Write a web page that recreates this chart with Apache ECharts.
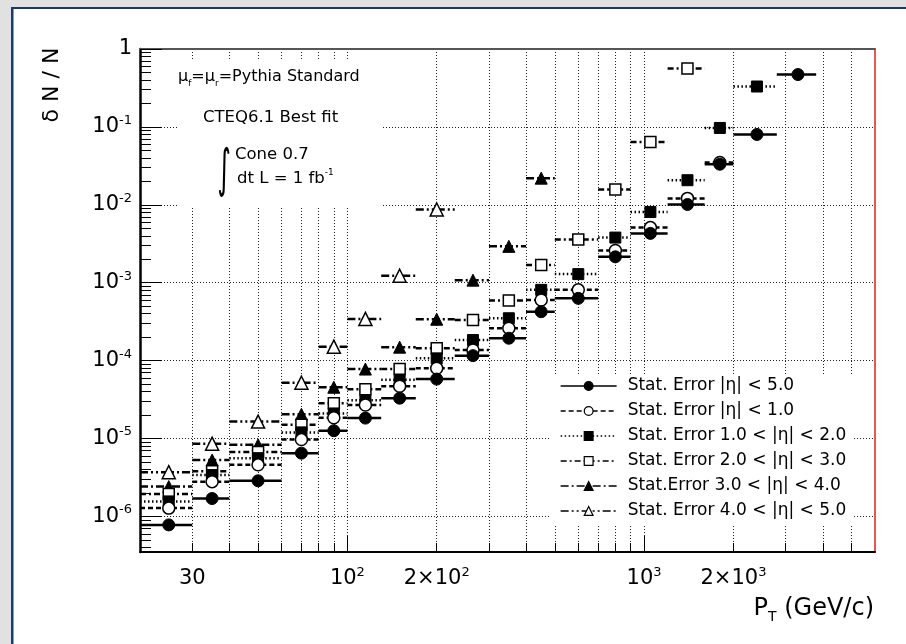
<!DOCTYPE html>
<html>
<head>
<meta charset="utf-8">
<script src="https://cdn.jsdelivr.net/npm/echarts@6/dist/echarts.min.js"></script>
<style>
html, body { margin: 0; padding: 0; background: #fff; }
#chart { width: 906px; height: 644px; }
</style>
</head>
<body>
<div id="chart"></div>
<script>
// pT bins (GeV/c): low edge, high edge, point position
const binLo  = [20, 30, 40, 60, 80, 100, 130, 170, 230, 300, 400, 500, 700, 900, 1200, 1600, 2000, 2800];
const binHi  = [30, 40, 60, 80, 100, 130, 170, 230, 300, 400, 500, 700, 900, 1200, 1600, 2000, 2800, 3800];
const binMid = [25, 35, 50, 70, 90, 115, 150, 200, 265, 350, 450, 600, 800, 1050, 1400, 1800, 2400, 3300];

// dN/N per bin, null = no point
const errEta50 = [7.8e-7, 1.7e-6, 2.87e-6, 6.5e-6, 1.26e-5, 1.83e-5, 3.3e-5, 5.8e-5, 1.16e-4, 1.94e-4, 4.25e-4, 6.3e-4, 2.15e-3, 4.3e-3, 1.01e-2, 3.32e-2, 8.0e-2, 0.47];
const errEta10 = [1.28e-6, 2.8e-6, 4.6e-6, 9.7e-6, 1.85e-5, 2.7e-5, 4.7e-5, 8.0e-5, 1.37e-4, 2.6e-4, 6.0e-4, 8.1e-4, 2.6e-3, 5.1e-3, 1.21e-2, 3.5e-2, null, null];
const errEta1020 = [1.56e-6, 3.4e-6, 5.6e-6, 1.2e-5, 2.1e-5, 3.1e-5, 5.7e-5, 1.07e-4, 1.84e-4, 3.5e-4, 8.1e-4, 1.29e-3, 3.8e-3, 8.1e-3, 2.07e-2, 9.7e-2, 0.33, null];
const errEta2030 = [1.94e-6, 3.8e-6, 6.7e-6, 1.5e-5, 2.85e-5, 4.3e-5, 7.8e-5, 1.44e-4, 3.33e-4, 5.9e-4, 1.69e-3, 3.6e-3, 1.57e-2, 6.4e-2, 0.56, null, null, null];
const errEta3040 = [2.42e-6, 5.3e-6, 8.3e-6, 2.05e-5, 4.56e-5, 7.8e-5, 1.49e-4, 3.4e-4, 1.08e-3, 2.93e-3, 2.2e-2, null, null, null, null, null, null, null];
const errEta4050 = [3.7e-6, 8.6e-6, 1.65e-5, 5.2e-5, 1.51e-4, 3.43e-4, 1.23e-3, 8.7e-3, null, null, null, null, null, null, null, null, null, null];

const seriesNames = [
    'Stat. Error |η| < 5.0',
    'Stat. Error |η| < 1.0',
    'Stat. Error 1.0 < |η| < 2.0',
    'Stat. Error 2.0 < |η| < 3.0',
    'Stat.Error 3.0 < |η| < 4.0',
    'Stat. Error 4.0 < |η| < 5.0'
];

// axis ticks and labels
const xTickVals = [30, 40, 50, 60, 70, 80, 90, 100, 200, 300, 400, 500, 600, 700, 800, 900, 1000, 2000, 3000, 4000, 5000];
const xMajorTickVals = [100, 1000];
const xLabelVals = [30, 100, 200, 1000, 2000];
const xLabelTexts = ['30', '10{s|2}', '2×10{s|2}', '10{s|3}', '2×10{s|3}'];
const yLabelVals = [1e-6, 1e-5, 1e-4, 1e-3, 1e-2, 1e-1, 1];
const yLabelTexts = ['10{s|-6}', '10{s|-5}', '10{s|-4}', '10{s|-3}', '10{s|-2}', '10{s|-1}', '1'];
const yMinorTickVals = [];
[1e-7, 1e-6, 1e-5, 1e-4, 1e-3, 1e-2, 1e-1].forEach(function (d) {
    for (let k = 2; k <= 9; k++) {
        if (k * d >= 3.5e-7) yMinorTickVals.push(k * d);
    }
});

const FONT = 'DejaVu Sans';

function pickLabel(vals, texts, v) {
    for (let i = 0; i < vals.length; i++) {
        if (Math.abs(Math.log10(v / vals[i])) < 1e-4) return texts[i];
    }
    return '';
}

// horizontal bin bar + marker in the middle, gaps between bins
function binData(vals) {
    let out = [];
    vals.forEach(function (v, i) {
        if (v == null) return;
        out.push({ value: [binLo[i], v], symbol: 'none' });
        out.push({ value: [binMid[i], v] });
        out.push({ value: [binHi[i], v], symbol: 'none' });
        out.push({ value: ['-', '-'] });
    });
    return out;
}

function makeSeries(name, vals, symbol, size, filled, dash, width, z) {
    return {
        name: name,
        type: 'line',
        data: binData(vals),
        symbol: symbol,
        symbolSize: size,
        showSymbol: true,
        connectNulls: false,
        silent: true,
        z: z,
        lineStyle: { color: '#000', width: width, type: dash },
        itemStyle: filled
            ? { color: '#000', borderColor: '#000', borderWidth: 1 }
            : { color: '#fff', borderColor: '#000', borderWidth: 1.5 }
    };
}

let xMin = 20, xMax = 6000, yMin = 3.5e-7, yMax = 1;

let option = {
    animation: false,
    backgroundColor: '#fff',
    textStyle: { fontFamily: FONT },
    grid: { left: 140, top: 49, width: 735, height: 503, containLabel: false, outerBoundsMode: 'none' },
    legend: {
        orient: 'vertical',
        left: 550,
        top: 374,
        data: seriesNames,
        backgroundColor: '#fff',
        padding: [3, 6, 5, 10],
        itemWidth: 56,
        itemHeight: 11,
        itemGap: 7,
        selectedMode: false,
        lineStyle: { width: 1.3 },
        itemStyle: { borderWidth: 1.2 },
        textStyle: { fontFamily: FONT, fontSize: 17, color: '#000', lineHeight: 18, padding: [0, 0, 0, 6] }
    },
    xAxis: [
        {
            type: 'log', logBase: 10, min: xMin, max: xMax, position: 'bottom',
            axisLine: { show: true, onZero: false, lineStyle: { color: '#000', width: 2 } },
            axisTick: { show: true, inside: true, length: 9, customValues: xTickVals, lineStyle: { color: '#000', width: 1 } },
            minorTick: { show: false },
            axisLabel: {
                show: true, customValues: xLabelVals, margin: 14,
                fontFamily: FONT, fontSize: 21, color: '#000', lineHeight: 26,
                formatter: function (v) { return pickLabel(xLabelVals, xLabelTexts, v); },
                rich: { s: { fontFamily: FONT, fontSize: 13, lineHeight: 13, verticalAlign: 'top', color: '#000' } }
            },
            splitLine: { show: true, lineStyle: { color: '#222', width: 1, type: [1, 2] } }
        },
        {
            type: 'log', logBase: 10, min: xMin, max: xMax, position: 'bottom',
            axisLine: { show: false, onZero: false },
            axisTick: { show: true, inside: true, length: 16, customValues: xMajorTickVals, lineStyle: { color: '#000', width: 1 } },
            axisLabel: { show: false },
            splitLine: { show: false }
        },
        {
            type: 'log', logBase: 10, min: xMin, max: xMax, position: 'top',
            axisLine: { show: true, onZero: false, lineStyle: { color: '#555', width: 2 } },
            axisTick: { show: false },
            axisLabel: { show: false },
            splitLine: { show: false }
        }
    ],
    yAxis: [
        {
            type: 'log', logBase: 10, min: yMin, max: yMax, position: 'left',
            axisLine: { show: true, onZero: false, lineStyle: { color: '#000', width: 2.5 } },
            axisTick: { show: true, inside: true, length: 22, customValues: yLabelVals, lineStyle: { color: '#000', width: 1 } },
            minorTick: { show: false },
            axisLabel: {
                show: true, customValues: yLabelVals, margin: 8,
                fontFamily: FONT, fontSize: 21, color: '#000', lineHeight: 26,
                formatter: function (v) { return pickLabel(yLabelVals, yLabelTexts, v); },
                rich: { s: { fontFamily: FONT, fontSize: 13, lineHeight: 13, verticalAlign: 'top', color: '#000' } }
            },
            splitLine: { show: true, lineStyle: { color: '#222', width: 1, type: [1, 2] } }
        },
        {
            type: 'log', logBase: 10, min: yMin, max: yMax, position: 'left',
            axisLine: { show: false, onZero: false },
            axisTick: { show: true, inside: true, length: 11, customValues: yMinorTickVals, lineStyle: { color: '#000', width: 1 } },
            axisLabel: { show: false },
            splitLine: { show: false }
        },
        {
            type: 'log', logBase: 10, min: yMin, max: yMax, position: 'right',
            axisLine: { show: true, onZero: false, lineStyle: { color: '#e0201a', width: 1.5 } },
            axisTick: { show: false },
            axisLabel: { show: false },
            splitLine: { show: false }
        }
    ],
    series: [
        makeSeries(seriesNames[0], errEta50, 'circle', 12, true, 'solid', 2.5, 8),
        makeSeries(seriesNames[1], errEta10, 'circle', 12, false, [5, 3], 2.5, 7),
        makeSeries(seriesNames[2], errEta1020, 'rect', 11, true, [1.5, 2.5], 2.5, 6),
        makeSeries(seriesNames[3], errEta2030, 'rect', 11, false, [6, 3, 2, 3], 2.5, 5),
        makeSeries(seriesNames[4], errEta3040, 'triangle', 12, true, [8, 3, 2, 3], 2.5, 4),
        makeSeries(seriesNames[5], errEta4050, 'triangle', 13, false, [8, 3, 2, 3, 2, 3], 2.5, 3)
    ],
    graphic: [
        // outer panel frame
        { type: 'rect', shape: { x: 0, y: 0, width: 906, height: 7 }, style: { fill: '#e1e1e1' }, z: 1 },
        { type: 'rect', shape: { x: 0, y: 0, width: 11, height: 644 }, style: { fill: '#e1e1e1' }, z: 1 },
        { type: 'rect', shape: { x: 11, y: 7, width: 895, height: 2 }, style: { fill: '#1b3a6b' }, z: 2 },
        { type: 'rect', shape: { x: 11, y: 7, width: 2.5, height: 637 }, style: { fill: '#1b3a6b' }, z: 2 },
        // info box
        { type: 'rect', shape: { x: 178, y: 60, width: 205, height: 148 }, style: { fill: '#fff' }, z: 3 },
        {
            type: 'text', x: 178, y: 77, z: 4,
            style: {
                text: 'μ{sub|f}=μ{sub|r}=Pythia Standard', fontFamily: FONT, fontSize: 16, fill: '#000',
                textVerticalAlign: 'middle', lineHeight: 22,
                rich: { sub: { fontFamily: FONT, fontSize: 9, lineHeight: 9, verticalAlign: 'bottom', fill: '#000' } }
            }
        },
        {
            type: 'text', x: 203, y: 118, z: 4,
            style: { text: 'CTEQ6.1 Best fit', fontFamily: FONT, fontSize: 16.5, fill: '#000', textVerticalAlign: 'middle' }
        },
        {
            type: 'text', x: 224, y: 172, z: 4, scaleX: 0.5,
            style: { text: '∫', fontFamily: FONT, fontSize: 52, fill: '#000', textAlign: 'center', textVerticalAlign: 'middle' }
        },
        {
            type: 'text', x: 235, y: 155, z: 4,
            style: { text: 'Cone 0.7', fontFamily: FONT, fontSize: 16.5, fill: '#000', textVerticalAlign: 'middle' }
        },
        {
            type: 'text', x: 237, y: 179, z: 4,
            style: {
                text: 'dt L = 1 fb{sup|-1}', fontFamily: FONT, fontSize: 16.5, fill: '#000',
                textVerticalAlign: 'middle', lineHeight: 22,
                rich: { sup: { fontFamily: FONT, fontSize: 9, lineHeight: 9, verticalAlign: 'top', fill: '#000' } }
            }
        },
        // axis titles
        {
            type: 'text', x: 52, y: 85, z: 4, rotation: Math.PI / 2,
            style: { text: 'δ N / N', fontFamily: FONT, fontSize: 22, fill: '#000', textAlign: 'center', textVerticalAlign: 'middle' }
        },
        {
            type: 'text', x: 874, y: 609, z: 4,
            style: {
                text: 'P{sub|T} (GeV/c)', fontFamily: FONT, fontSize: 24, fill: '#000',
                textAlign: 'right', textVerticalAlign: 'middle', lineHeight: 30,
                rich: { sub: { fontFamily: FONT, fontSize: 14, lineHeight: 14, verticalAlign: 'bottom', fill: '#000' } }
            }
        }
    ]
};

let chart = echarts.init(document.getElementById('chart'), null, { renderer: 'canvas' });
chart.setOption(option);
</script>
</body>
</html>
